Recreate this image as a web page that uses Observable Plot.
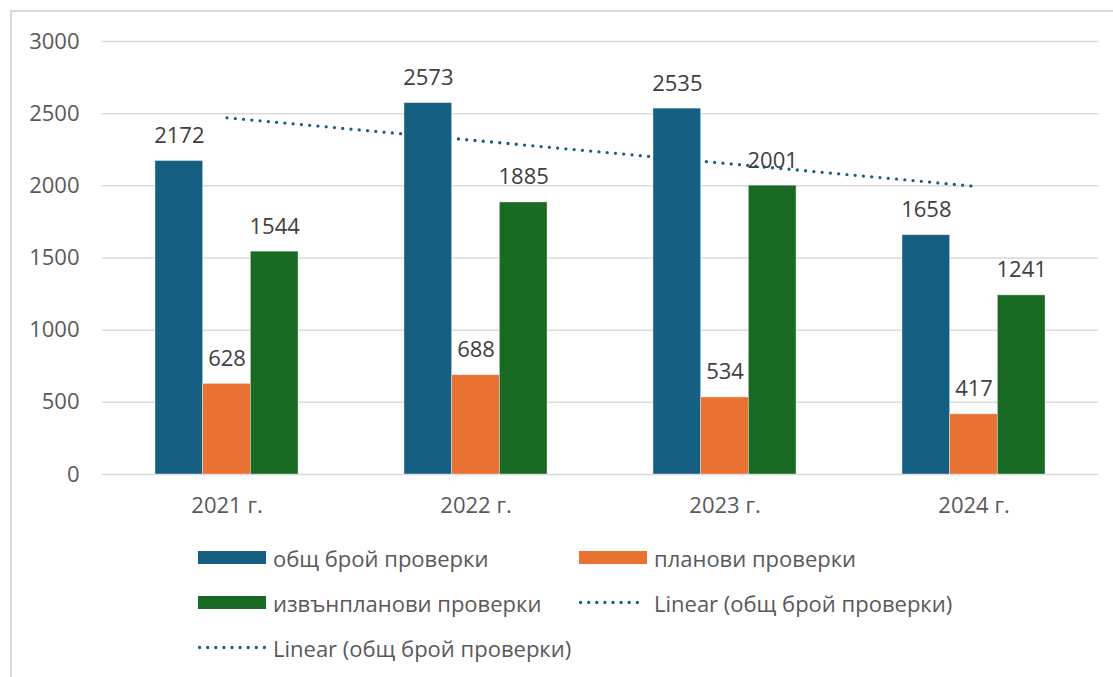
<!DOCTYPE html>
<html><head><meta charset="utf-8">
<script src="https://cdn.jsdelivr.net/npm/d3@7"></script>
<script src="https://cdn.jsdelivr.net/npm/@observablehq/plot@0.6"></script>
<style>
body{margin:0;background:#fff;overflow:hidden;width:1113px;height:677px;font-family:"Open Sans",sans-serif;}
#frame{position:absolute;left:10px;top:10px;width:1200px;height:800px;border:2px solid #d9d9d9;box-sizing:border-box;}
#chart{position:absolute;left:0;top:0;}
.leg{position:absolute;display:flex;align-items:center;height:30px;font-size:22px;color:#595959;white-space:nowrap;}
.sw{width:68px;height:13px;margin-right:7px;flex:none;}
</style></head><body>
<div id="frame"></div>
<div id="chart"></div>
<div id="legend"></div>
<script>
const categories = ["2021 г.", "2022 г.", "2023 г.", "2024 г."];
const seriesNames = ["общ брой проверки", "планови проверки", "извънпланови проверки"];
const total = [2172, 2573, 2535, 1658];
const planned = [628, 688, 534, 417];
const unplanned = [1544, 1885, 2001, 1241];
const yTicks = [0, 500, 1000, 1500, 2000, 2500, 3000];
const colors = ["#156082", "#E97132", "#196B24"];
const trendName = "Linear (общ брой проверки)";

const seriesValues = [total, planned, unplanned];
const rows = categories.flatMap((c, i) => seriesValues.map((arr, s) => ({cat: c, i, s, series: seriesNames[s], value: arr[i]})));
const totalRows = rows.filter(d => d.s === 0);
const w = 0.1915; // bar width in category units

const plot = Plot.plot({
  width: 1113, height: 534,
  marginTop: 41, marginBottom: 60, marginLeft: 102, marginRight: 15,
  style: {fontFamily: '"Open Sans", sans-serif', fontSize: "22px", color: "#595959", background: "transparent"},
  x: {domain: [-0.5, 3.5]},
  y: {domain: [0, 3000]},
  color: {domain: seriesNames, range: colors},
  marks: [
    Plot.gridY(yTicks, {stroke: "#d9d9d9", strokeOpacity: 1, strokeWidth: 1.5}),
    Plot.axisY(yTicks, {tickSize: 0, tickPadding: 23, label: null, tickFormat: d => String(d), fill: "#595959", fontSize: 22}),
    Plot.axisX(categories.map((c, i) => i), {tickSize: 0, tickPadding: 23, label: null, tickFormat: i => categories[i], fill: "#595959", fontSize: 22}),
    Plot.linearRegressionY(totalRows, {x: "i", y: "value", ci: 0, stroke: colors[0], strokeWidth: 3.3, strokeDasharray: "0 8.3", strokeLinecap: "round"}),
    Plot.rect(rows, {
      x1: d => d.i + (d.s - 1.5) * w,
      x2: d => d.i + (d.s - 0.5) * w,
      y1: 0, y2: "value", fill: "series",
      stroke: "#ffffff", strokeOpacity: 0.5, strokeWidth: 0.75
    }),
    Plot.text(rows, {
      x: d => d.i + (d.s - 1) * w, y: "value", text: d => String(d.value),
      lineAnchor: "bottom", dy: -18, fill: "#404040", fontSize: 22
    })
  ]
});
document.getElementById("chart").appendChild(plot);

// Legend
const legendItems = [
  ...seriesNames.map((n, s) => ({name: n, type: "bar", color: colors[s]})),
  {name: trendName, type: "trend", color: colors[0]},
  {name: trendName, type: "trend", color: colors[0]}
];
const colLeft = [198, 579];
const legend = document.getElementById("legend");
legendItems.forEach((it, k) => {
  const el = document.createElement("div");
  el.className = "leg";
  el.style.left = colLeft[k % 2] + "px";
  el.style.top = (557.5 + Math.floor(k / 2) * 45 - 15) + "px";
  if (it.type === "bar") {
    const sw = document.createElement("div");
    sw.className = "sw";
    sw.style.background = it.color;
    el.appendChild(sw);
  } else {
    const ns = "http://www.w3.org/2000/svg";
    const svg = document.createElementNS(ns, "svg");
    svg.setAttribute("width", 68); svg.setAttribute("height", 13);
    svg.setAttribute("class", "sw");
    const ln = document.createElementNS(ns, "line");
    ln.setAttribute("x1", 1.6); ln.setAttribute("x2", 66.4);
    ln.setAttribute("y1", 6.5); ln.setAttribute("y2", 6.5);
    ln.setAttribute("stroke", it.color); ln.setAttribute("stroke-width", 3.3);
    ln.setAttribute("stroke-dasharray", "0 8.1"); ln.setAttribute("stroke-linecap", "round");
    svg.appendChild(ln);
    el.appendChild(svg);
  }
  const t = document.createElement("span");
  t.textContent = it.name;
  el.appendChild(t);
  legend.appendChild(el);
});
</script>
</body></html>
